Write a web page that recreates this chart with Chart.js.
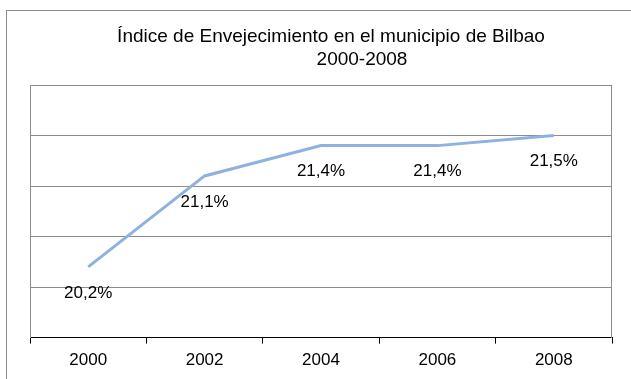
<!DOCTYPE html>
<html>
<head>
<meta charset="utf-8">
<script src="https://cdn.jsdelivr.net/npm/chart.js@4/dist/chart.umd.min.js"></script>
<style>
    html, body { margin: 0; padding: 0; background: #fff; overflow: hidden; }
    #wrap { position: relative; width: 631px; height: 379px; }
</style>
</head>
<body>
<div id="wrap"><canvas id="agingChart" width="631" height="379"></canvas></div>
<script>
(function () {
    const years = ["2000", "2002", "2004", "2006", "2008"];
    const agingIndex = [20.2, 21.1, 21.4, 21.4, 21.5];
    const titleLines = ["Índice de Envejecimiento en el municipio de Bilbao", "2000-2008"];

    const fontFamily = "'Liberation Sans', Arial, sans-serif";

    function formatPct(v) {
        return v.toFixed(1).replace(".", ",") + "%";
    }

    // outer frame, the two title lines and the gray plot frame
    const frameAndTitlePlugin = {
        id: "frameAndTitle",
        beforeDraw(chart) {
            const { ctx } = chart;
            ctx.save();
            ctx.strokeStyle = "#8c8c8c";
            ctx.lineWidth = 1;
            ctx.strokeRect(6.5, 10.5, 800, 800);
            ctx.fillStyle = "#000";
            ctx.font = "19px " + fontFamily;
            ctx.textAlign = "center";
            ctx.textBaseline = "middle";
            ctx.fillText(titleLines[0], 331, 37);
            ctx.fillText(titleLines[1], 362, 60);
            ctx.restore();
        },
        afterDatasetsDraw(chart) {
            const { ctx, chartArea } = chart;
            ctx.save();
            ctx.strokeStyle = "#8c8c8c";
            ctx.lineWidth = 1;
            ctx.beginPath();
            const l = Math.round(chartArea.left) + 0.5;
            const r = Math.round(chartArea.right) - 0.5;
            const t = Math.round(chartArea.top) + 0.5;
            const b = Math.round(chartArea.bottom);
            ctx.moveTo(l, b);
            ctx.lineTo(l, t);
            ctx.lineTo(r, t);
            ctx.lineTo(r, b);
            ctx.stroke();
            ctx.restore();
        },
    };

    // value labels under each point
    const valueLabelPlugin = {
        id: "valueLabels",
        afterDatasetsDraw(chart) {
            const { ctx } = chart;
            const meta = chart.getDatasetMeta(0);
            ctx.save();
            ctx.fillStyle = "#000";
            ctx.font = "17px " + fontFamily;
            ctx.textAlign = "center";
            ctx.textBaseline = "middle";
            meta.data.forEach((pt, i) => {
                ctx.fillText(formatPct(agingIndex[i]), pt.x, pt.y + 26);
            });
            ctx.restore();
        },
    };

    new Chart(document.getElementById("agingChart"), {
        type: "line",
        data: {
            labels: years,
            datasets: [
                {
                    data: agingIndex,
                    borderColor: "#8db2e2",
                    borderWidth: 3,
                    pointRadius: 0,
                    tension: 0,
                    fill: false,
                },
            ],
        },
        options: {
            responsive: false,
            animation: false,
            devicePixelRatio: 1,
            layout: {
                padding: { left: 30, right: 19, top: 85, bottom: 1 },
            },
            plugins: {
                legend: { display: false },
                title: { display: false },
                tooltip: { enabled: false },
            },
            scales: {
                x: {
                    offset: true,
                    grid: {
                        offset: true,
                        drawOnChartArea: false,
                        drawTicks: true,
                        tickLength: 6,
                        color: "#000",
                    },
                    border: { color: "#000", width: 1 },
                    ticks: {
                        color: "#000",
                        font: { family: fontFamily, size: 17 },
                        padding: 7,
                        maxRotation: 0,
                    },
                },
                y: {
                    min: 19.5,
                    max: 22,
                    ticks: { display: false, stepSize: 0.5 },
                    grid: { color: "#8c8c8c", drawTicks: false },
                    border: { display: false },
                },
            },
        },
        plugins: [frameAndTitlePlugin, valueLabelPlugin],
    });
})();
</script>
</body>
</html>
